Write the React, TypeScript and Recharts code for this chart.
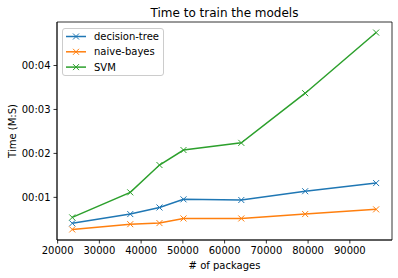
import React from "react";
import { LineChart, Line, XAxis, YAxis, ReferenceArea } from "recharts";

const packages = [23500, 37400, 44400, 50150, 64000, 79300, 96300];
const decisionTree = [0.41, 0.62, 0.77, 0.955, 0.94, 1.14, 1.325];
const naiveBayes = [0.27, 0.39, 0.415, 0.52, 0.52, 0.62, 0.727];
const svm = [0.544, 1.114, 1.736, 2.077, 2.24, 3.37, 4.75];
const xTicks = [20000, 30000, 40000, 50000, 60000, 70000, 80000, 90000];
const yTicks = [1, 2, 3, 4];

const seriesNames = ["decision-tree", "naive-bayes", "SVM"];
const colors = ["#1f77b4", "#ff7f0e", "#2ca02c"];

const data = packages.map((p, i) => ({
  packages: p,
  dt: decisionTree[i],
  nb: naiveBayes[i],
  svm: svm[i],
}));

const pad = (n: number) => String(Math.floor(n)).padStart(2, "0");
const fmtMS = (v: number) => `${pad(v / 60)}:${pad(v % 60)}`;

const FONT = "DejaVu Sans, sans-serif";

const XMark = (color: string) => (props: any) => {
  const { cx, cy } = props;
  if (cx == null || cy == null) return null;
  const h = 3;
  return (
    <g key={`${cx}-${cy}`}>
      <line x1={cx - h} y1={cy - h} x2={cx + h} y2={cy + h} stroke={color} strokeWidth={1} />
      <line x1={cx - h} y1={cy + h} x2={cx + h} y2={cy - h} stroke={color} strokeWidth={1} />
    </g>
  );
};

const LegendBox = () => (
  <g transform="translate(62,28)">
    <rect x={0.5} y={0.5} width={101} height={47} rx={2.5} fill="rgba(255,255,255,0.8)" stroke="#cccccc" strokeWidth={1} />
    {seriesNames.map((name, i) => {
      const y = 8.5 + i * 15.3;
      const c = colors[i];
      return (
        <g key={name}>
          <line x1={4} y1={y} x2={24} y2={y} stroke={c} strokeWidth={1.5} />
          <line x1={11} y1={y - 3} x2={17} y2={y + 3} stroke={c} strokeWidth={1} />
          <line x1={11} y1={y + 3} x2={17} y2={y - 3} stroke={c} strokeWidth={1} />
          <text x={32} y={y + 3.6} fontFamily={FONT} fontSize={10} fill="#000">
            {name}
          </text>
        </g>
      );
    })}
  </g>
);

export default function App() {
  const W = 398;
  const H = 278;
  return (
    <div style={{ position: "absolute", left: 0, top: 0, width: W, height: H, background: "#fff" }}>
      <LineChart
        width={W}
        height={H}
        data={data}
        margin={{ top: 22, right: 6, bottom: 0, left: 0 }}
        style={{ fontFamily: FONT }}
      >
        <XAxis
          dataKey="packages"
          type="number"
          domain={[19850, 100100]}
          ticks={xTicks}
          allowDataOverflow
          height={38}
          tickSize={3.5}
          tickMargin={3}
          axisLine={{ stroke: "#000", strokeWidth: 0.8 }}
          tickLine={{ stroke: "#000", strokeWidth: 0.8 }}
          tick={{ fill: "#000", fontSize: 10, fontFamily: FONT }}
        />
        <YAxis
          type="number"
          domain={[0.03, 4.99]}
          ticks={yTicks}
          allowDataOverflow
          width={57}
          tickSize={3.5}
          tickMargin={3}
          tickFormatter={fmtMS}
          axisLine={{ stroke: "#000", strokeWidth: 0.8 }}
          tickLine={{ stroke: "#000", strokeWidth: 0.8 }}
          tick={{ fill: "#000", fontSize: 10, fontFamily: FONT }}
        />
        <ReferenceArea
          x1={19850}
          x2={100100}
          y1={0.03}
          y2={4.99}
          fill="none"
          fillOpacity={0}
          stroke="#000"
          strokeWidth={0.8}
          strokeOpacity={1}
          ifOverflow="visible"
        />
        <Line dataKey="dt" name={seriesNames[0]} stroke={colors[0]} strokeWidth={1.5} dot={XMark(colors[0])} activeDot={false} isAnimationActive={false} />
        <Line dataKey="nb" name={seriesNames[1]} stroke={colors[1]} strokeWidth={1.5} dot={XMark(colors[1])} activeDot={false} isAnimationActive={false} />
        <Line dataKey="svm" name={seriesNames[2]} stroke={colors[2]} strokeWidth={1.5} dot={XMark(colors[2])} activeDot={false} isAnimationActive={false} />
      </LineChart>
      <svg width={W} height={H} style={{ position: "absolute", left: 0, top: 0, pointerEvents: "none" }}>
        <LegendBox />
        <text x={224.5} y={17} textAnchor="middle" fontFamily={FONT} fontSize={12} fill="#000">
          Time to train the models
        </text>
        <text x={224.5} y={269} textAnchor="middle" fontFamily={FONT} fontSize={10} fill="#000">
          # of packages
        </text>
        <text
          x={0}
          y={0}
          transform="translate(16,131) rotate(-90)"
          textAnchor="middle"
          fontFamily={FONT}
          fontSize={10}
          fill="#000"
        >
          Time (M:S)
        </text>
      </svg>
    </div>
  );
}
